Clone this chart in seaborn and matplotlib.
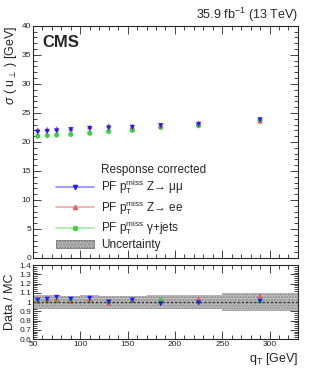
import numpy as np
import pandas as pd
import seaborn as sns
import matplotlib.pyplot as plt
from matplotlib.lines import Line2D
from matplotlib.patches import Patch
from matplotlib.ticker import MultipleLocator

qt = [55, 65, 75, 90, 110, 130, 155, 185, 225, 290]
bin_lo = [50, 60, 70, 80, 100, 120, 140, 170, 200, 250]
bin_hi = [60, 70, 80, 100, 120, 140, 170, 200, 250, 330]

sig_mumu = [21.7, 21.8, 21.9, 22.1, 22.3, 22.4, 22.5, 22.8, 23.0, 23.8]
sig_ee = [22.1, 22.2, 22.3, 22.3, 22.6, 22.8, 22.7, 22.8, 23.3, 23.6]
sig_gjets = [21.0, 21.1, 21.2, 21.3, 21.5, 21.8, 22.0, 22.5, 22.8, 23.7]

rat_mumu = [1.02, 1.03, 1.05, 1.03, 1.04, 1.00, 1.02, 0.98, 0.99, 1.01]
rat_ee = [1.01, 1.02, 1.03, 1.01, 1.03, 0.99, 1.02, 1.00, 1.04, 1.07]
rat_gjets = [1.01, 1.01, 1.01, 1.02, 1.01, 1.00, 1.01, 1.02, 1.01, 1.01]
unc = [0.08, 0.08, 0.08, 0.07, 0.08, 0.07, 0.07, 0.08, 0.08, 0.1]

# drawn back to front: gamma+jets, ee, mumu
series = [
    ("gjets", sig_gjets, rat_gjets, "#40d040", "#a0eca0", "o", "PF p$_{\\mathrm{T}}^{\\mathrm{miss}}$ γ+jets"),
    ("ee", sig_ee, rat_ee, "#e06060", "#f0a8a8", "^", "PF p$_{\\mathrm{T}}^{\\mathrm{miss}}$ Z→ ee"),
    ("mumu", sig_mumu, rat_mumu, "#1f1fff", "#8f8fff", "v", "PF p$_{\\mathrm{T}}^{\\mathrm{miss}}$ Z→ μμ"),
]

sns.set_style("ticks")
plt.rcParams['font.family'] = ['Liberation Sans', 'DejaVu Sans']
plt.rcParams['mathtext.fontset'] = 'custom'
plt.rcParams['mathtext.rm'] = 'Liberation Sans'
plt.rcParams['mathtext.it'] = 'Liberation Sans:italic'

fig = plt.figure(figsize=(3.32, 3.75), dpi=100)
ax = fig.add_axes([0.0994, 0.312, 0.798, 0.619])
axr = fig.add_axes([0.0994, 0.096, 0.798, 0.197])

rows = []
for name, sig, rat, col, lcol, mk, lab in series:
    for x, s, r in zip(qt, sig, rat):
        rows.append({"qt": x, "sigma": s, "ratio": r, "sample": name})
df = pd.DataFrame(rows)

pal = {s[0]: s[3] for s in series}
mks = {s[0]: s[5] for s in series}
order = [s[0] for s in series]

# uncertainty band in ratio panel
for lo, hi, u in zip(bin_lo, bin_hi, unc):
    axr.fill_between([lo, hi], 1 - u, 1 + u, facecolor="#c0c0c0", edgecolor="#888888",
                     hatch="......", linewidth=0, zorder=1)

for name, sig, rat, col, lcol, mk, lab in series:
    ax.errorbar(qt, sig, yerr=0.2, fmt="none", ecolor=lcol, elinewidth=0.8, zorder=2)
    axr.errorbar(qt, rat, yerr=0.015, fmt="none", ecolor=lcol, elinewidth=0.8, zorder=2)

sns.scatterplot(data=df, x="qt", y="sigma", hue="sample", style="sample", palette=pal,
                markers=mks, hue_order=order, style_order=order, s=14, linewidth=0,
                ax=ax, legend=False, zorder=3)
sns.scatterplot(data=df, x="qt", y="ratio", hue="sample", style="sample", palette=pal,
                markers=mks, hue_order=order, style_order=order, s=14, linewidth=0,
                ax=axr, legend=False, zorder=3)
axr.axhline(1.0, color="#333333", linestyle=(0, (1.5, 1.5)), linewidth=1.0, zorder=4)

for a in (ax, axr):
    a.set_xlim(50, 330)
    a.xaxis.set_major_locator(MultipleLocator(50))
    a.xaxis.set_minor_locator(MultipleLocator(10))
    a.tick_params(which="both", direction="in", top=True, right=True, labelsize=6, pad=1.5)
    a.tick_params(which="major", length=6, width=0.6)
    a.tick_params(which="minor", length=3, width=0.6)
    for sp in a.spines.values():
        sp.set_linewidth(0.8)

ax.set_ylim(0, 40)
ax.yaxis.set_major_locator(MultipleLocator(5))
ax.yaxis.set_minor_locator(MultipleLocator(1))
ax.set_xticklabels([])
ax.set_xlabel("")
ax.set_ylabel(r"$\sigma$ ( u$_{\perp}$ ) [GeV]", fontsize=9, loc="top", labelpad=2)

axr.set_ylim(0.6, 1.4)
axr.yaxis.set_minor_locator(MultipleLocator(0.02))
axr.set_yticks([0.6, 0.7, 0.8, 0.9, 1.0, 1.1, 1.2, 1.3, 1.4])
axr.set_yticklabels(["0.6", "0.7", "0.8", "0.9", "1", "1.1", "1.2", "1.3", "1.4"])
axr.set_xticks([50, 100, 150, 200, 250, 300])
axr.set_xticklabels(["50", "100", "150", "200", "250", "300"])
axr.set_ylabel("Data / MC", fontsize=9, loc="center", labelpad=2)
axr.set_xlabel(r"q$_{\mathrm{T}}$ [GeV]", fontsize=9, loc="right", labelpad=2)

ax.text(0.035, 0.93, "CMS", transform=ax.transAxes, fontsize=12, fontweight="bold", va="center")
ax.text(1.0, 1.01, r"35.9 fb$^{-1}$ (13 TeV)", transform=ax.transAxes, fontsize=9,
        ha="right", va="bottom")

handles = [Patch(facecolor="none", edgecolor="none")]
labels = ["Response corrected"]
for name, sig, rat, col, lcol, mk, lab in reversed(series):
    handles.append(Line2D([], [], color=lcol, linewidth=1.2, marker=mk, markersize=3,
                          markerfacecolor=col, markeredgecolor=col))
    labels.append(lab)
handles.append(Patch(facecolor="#c0c0c0", edgecolor="#777777", hatch="......", linewidth=0.6))
labels.append("Uncertainty")
leg = ax.legend(handles, labels, loc="lower left", bbox_to_anchor=(0.06, 0.0), frameon=False,
                fontsize=8.5, handlelength=3.2, handletextpad=0.6, labelspacing=0.15,
                borderaxespad=0.2)

fig.savefig("out.png", dpi=100)
